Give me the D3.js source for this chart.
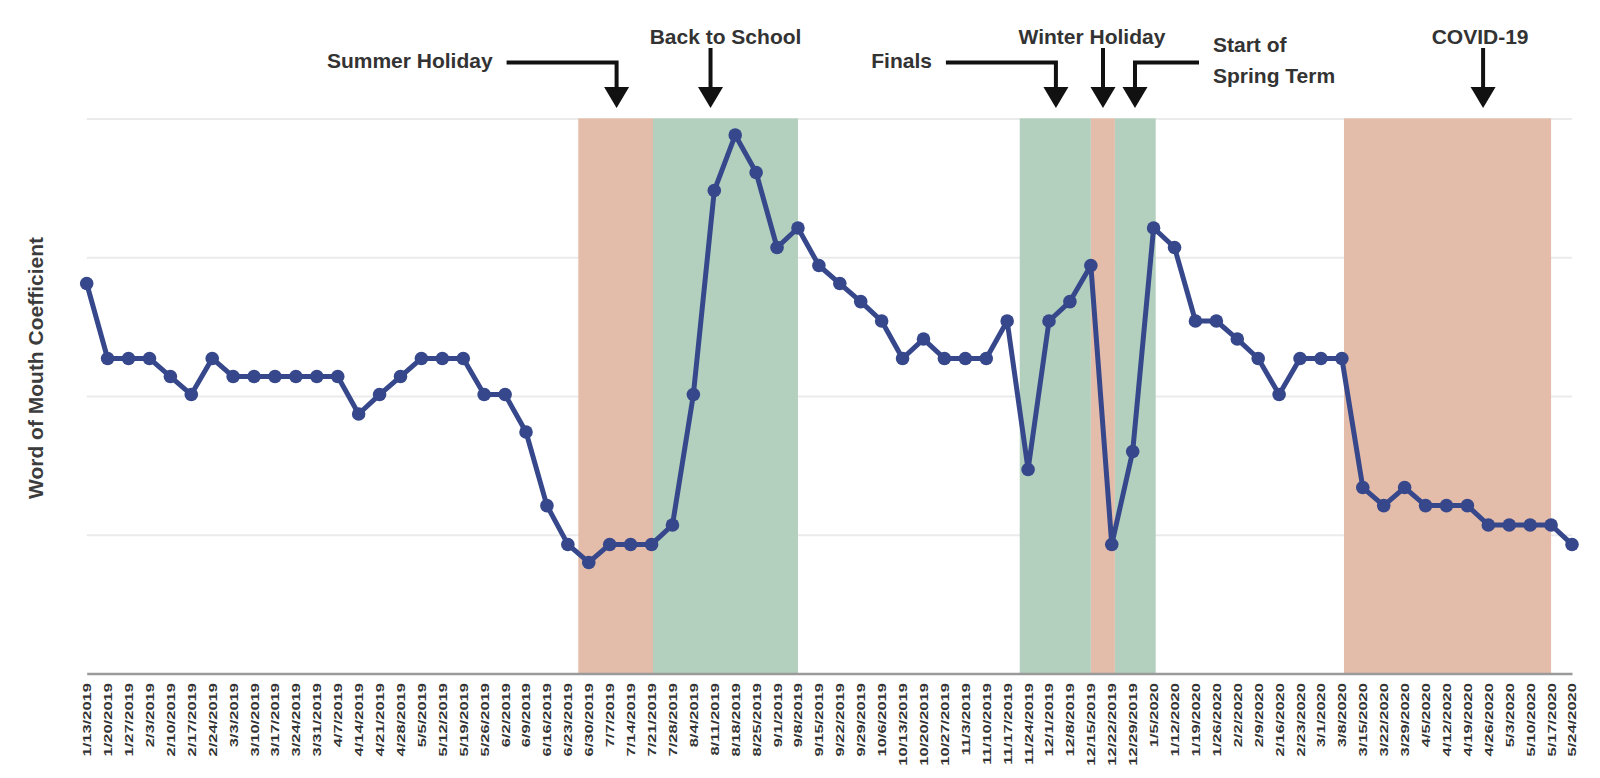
<!DOCTYPE html>
<html>
<head>
<meta charset="utf-8">
<script src="https://cdn.jsdelivr.net/npm/d3@7"></script>
<style>
  body { margin: 0; background: #fff; }
  svg { display: block; font-family: "Liberation Sans", Arial, sans-serif; }
</style>
</head>
<body>
<div id="wom-chart"></div>
<script>
// weekly labels, 1/13/2019 .. 5/24/2020
const weeks = [
  "1/13/2019", "1/20/2019", "1/27/2019", "2/3/2019", "2/10/2019", "2/17/2019", "2/24/2019",
  "3/3/2019", "3/10/2019", "3/17/2019", "3/24/2019", "3/31/2019", "4/7/2019", "4/14/2019",
  "4/21/2019", "4/28/2019", "5/5/2019", "5/12/2019", "5/19/2019", "5/26/2019", "6/2/2019",
  "6/9/2019", "6/16/2019", "6/23/2019", "6/30/2019", "7/7/2019", "7/14/2019", "7/21/2019",
  "7/28/2019", "8/4/2019", "8/11/2019", "8/18/2019", "8/25/2019", "9/1/2019", "9/8/2019",
  "9/15/2019", "9/22/2019", "9/29/2019", "10/6/2019", "10/13/2019", "10/20/2019", "10/27/2019",
  "11/3/2019", "11/10/2019", "11/17/2019", "11/24/2019", "12/1/2019", "12/8/2019", "12/15/2019",
  "12/22/2019", "12/29/2019", "1/5/2020", "1/12/2020", "1/19/2020", "1/26/2020", "2/2/2020",
  "2/9/2020", "2/16/2020", "2/23/2020", "3/1/2020", "3/8/2020", "3/15/2020", "3/22/2020",
  "3/29/2020", "4/5/2020", "4/12/2020", "4/19/2020", "4/26/2020", "5/3/2020", "5/10/2020",
  "5/17/2020", "5/24/2020"
]

// word of mouth coefficient (no scale printed on the original, read in gridline units)
const coefficient = [
  2.81, 2.27, 2.27, 2.27, 2.14, 2.01, 2.27, 2.14, 2.14, 2.14, 2.14, 2.14, 2.14, 1.87,
  2.01, 2.14, 2.27, 2.27, 2.27, 2.01, 2.01, 1.74, 1.21, 0.93, 0.80, 0.93, 0.93, 0.93,
  1.07, 2.01, 3.48, 3.88, 3.61, 3.07, 3.21, 2.94, 2.81, 2.68, 2.54, 2.27, 2.41, 2.27,
  2.27, 2.27, 2.54, 1.47, 2.54, 2.68, 2.94, 0.93, 1.60, 3.21, 3.07, 2.54, 2.54, 2.41,
  2.27, 2.01, 2.27, 2.27, 2.27, 1.34, 1.21, 1.34, 1.21, 1.21, 1.21, 1.07, 1.07, 1.07,
  1.07, 0.93
]

// shaded periods, in week index units
const breaks = [
  {start: 23.5, end: 27.07, kind: "break"},
  {start: 60.1, end: 70.0, kind: "break"},
  {start: 48.0, end: 49.15, kind: "break"}
]
const terms = [
  {start: 27.07, end: 34.0, kind: "term"},
  {start: 44.6, end: 48.0, kind: "term"},
  {start: 49.15, end: 51.1, kind: "term"}
]

const gridValues = [1, 2, 3, 4]

// event callouts: label lines and the week the arrow points at
const events = [
  {label: ["Summer Holiday"], week: 25.33, side: "left"},
  {label: ["Back to School"], week: 29.82, side: "top"},
  {label: ["Finals"], week: 46.33, side: "left"},
  {label: ["Winter Holiday"], week: 48.58, side: "top"},
  {label: ["Start of", "Spring Term"], week: 50.11, side: "right"},
  {label: ["COVID-19"], week: 66.75, side: "top"}
]

const width = 1600
const height = 778

const x = d3.scaleLinear()
  .domain([0, weeks.length - 1])
  .range([86.7, 1572])
const y = d3.scaleLinear()
  .domain([0, 4])
  .range([673.5, 118.4])

const svg = d3.select("#wom-chart")
  .append("svg")
  .attr("width", width)
  .attr("height", height)

// gridlines
svg.append("g")
  .attr("transform", `translate(${x(0)},0)`)
  .call(d3.axisLeft(y).tickValues(gridValues).tickSize(-(x.range()[1] - x.range()[0])).tickFormat(""))
  .call(g => g.select(".domain").remove())
  .selectAll("line")
  .attr("stroke", "#ebebeb")
  .attr("stroke-width", 2)

// shaded bands
const bandColor = {break: "#e4bcaa", term: "#b3cfbe"}
svg.append("g")
  .selectAll("rect")
  .data(breaks.concat(terms))
  .join("rect")
  .attr("x", d => x(d.start))
  .attr("width", d => x(d.end) - x(d.start))
  .attr("y", y(4))
  .attr("height", y(0) - y(4))
  .attr("fill", d => bandColor[d.kind])

// x axis
svg.append("g")
  .attr("transform", `translate(0,${y(0)})`)
  .call(d3.axisBottom(x)
    .tickValues(d3.range(weeks.length))
    .tickFormat(i => weeks[i])
    .tickSize(0)
    .tickSizeOuter(0))
  .call(g => g.select(".domain").attr("stroke", "#9a9a9a").attr("stroke-width", 2.5))
  .selectAll("text")
  .attr("transform", "rotate(-90) scale(1.5,1)")
  .attr("text-anchor", "end")
  .attr("x", -6.4)
  .attr("y", 0)
  .attr("dy", "0.36em")
  .attr("fill", "#333")
  .style("font-family", "'Liberation Sans', Arial, sans-serif")
  .style("font-size", "11px")
  .style("font-weight", "bold")

// y title
svg.append("text")
  .attr("transform", "translate(36,368) rotate(-90)")
  .attr("text-anchor", "middle")
  .attr("dy", "0.35em")
  .attr("fill", "#3c3c3c")
  .style("font-size", "21px")
  .style("font-weight", "bold")
  .text("Word of Mouth Coefficient")

// the line
const line = d3.line()
  .x((d, i) => x(i))
  .y(d => y(d))

svg.append("path")
  .datum(coefficient)
  .attr("fill", "none")
  .attr("stroke", "#36488b")
  .attr("stroke-width", 5)
  .attr("stroke-linejoin", "round")
  .attr("d", line)

svg.append("g")
  .selectAll("circle")
  .data(coefficient)
  .join("circle")
  .attr("cx", (d, i) => x(i))
  .attr("cy", d => y(d))
  .attr("r", 6.8)
  .attr("fill", "#36488b")

// callouts
const tipY = 108
const headH = 21
const headW = 25
const elbowY = 62.5
const textNudge = [0, 15, 0, -11, 0, -3]

const callout = svg.append("g")
  .attr("fill", "#333")
  .style("font-size", "21px")
  .style("font-weight", "bold")

events.forEach((ev, k) => {
  const ax = x(ev.week)
  let shaft
  if (ev.side === "top") {
    shaft = `M${ax},48V${tipY - headH + 1}`
    callout.append("text")
      .attr("x", ax + textNudge[k])
      .attr("y", 44)
      .attr("text-anchor", "middle")
      .text(ev.label[0])
  } else if (ev.side === "left") {
    shaft = `M${ax - 110},${elbowY}H${ax}V${tipY - headH + 1}`
    callout.append("text")
      .attr("x", ax - 124)
      .attr("y", 68)
      .attr("text-anchor", "end")
      .text(ev.label[0])
  } else {
    shaft = `M${ax + 64},${elbowY}H${ax}V${tipY - headH + 1}`
    ev.label.forEach((l, j) => {
      callout.append("text")
        .attr("x", ax + 78)
        .attr("y", 52 + j * 31)
        .attr("text-anchor", "start")
        .text(l)
    })
  }
  svg.append("path")
    .attr("d", shaft)
    .attr("fill", "none")
    .attr("stroke", "#111")
    .attr("stroke-width", 4)
  svg.append("path")
    .attr("d", `M${ax - headW / 2},${tipY - headH}H${ax + headW / 2}L${ax},${tipY}Z`)
    .attr("fill", "#111")
})
</script>
</body>
</html>
